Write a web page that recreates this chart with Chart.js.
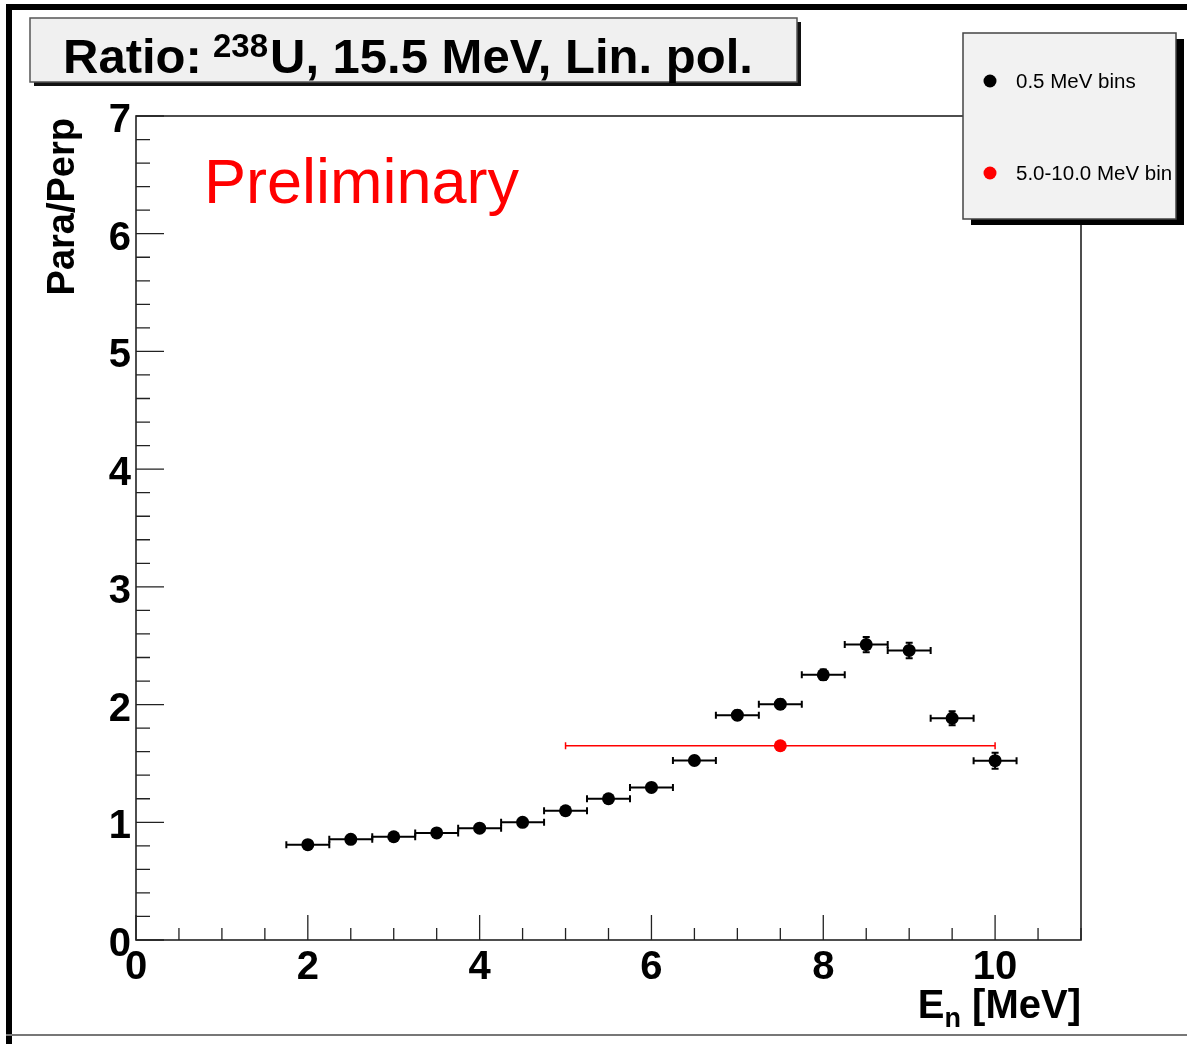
<!DOCTYPE html>
<html><head><meta charset="utf-8">
<script src="https://cdn.jsdelivr.net/npm/chart.js@4/dist/chart.umd.min.js"></script>
<style>html,body{margin:0;padding:0;background:#fff;overflow:hidden}#wrap{width:1187px;height:1044px;position:relative}canvas{display:block}</style>
</head><body><div id="wrap"><canvas id="c" width="1187" height="1044"></canvas></div>
<script>
// ---- data ----
const energies      = [2, 2.5, 3, 3.5, 4, 4.5, 5, 5.5, 6, 6.5, 7, 7.5, 8, 8.5, 9, 9.5, 10];
const ratios        = [0.81, 0.855, 0.877, 0.91, 0.95, 1.0, 1.098, 1.2, 1.296, 1.525, 1.91, 2.003, 2.253, 2.51, 2.46, 1.884, 1.523];
const ratioErr      = [0.02, 0.02, 0.02, 0.02, 0.02, 0.025, 0.025, 0.025, 0.03, 0.035, 0.04, 0.04, 0.045, 0.065, 0.066, 0.06, 0.068];
const binHalfWidth  = [0.25, 0.25, 0.25, 0.25, 0.25, 0.25, 0.25, 0.25, 0.25, 0.25, 0.25, 0.25, 0.25, 0.25, 0.25, 0.25, 0.25];
const wideCenter    = [7.5];
const wideRatio     = [1.65];
const wideErr       = [0.005];
const wideHalfWidth = [2.5];
const xTickLabels   = [0, 2, 4, 6, 8, 10];
const yTickLabels   = [0, 1, 2, 3, 4, 5, 6, 7];
const seriesLabels  = ['0.5 MeV bins', '5.0-10.0 MeV bin'];
const titleMain     = 'Ratio:';
const titleSup      = '238';
const titleRest     = 'U, 15.5 MeV, Lin. pol.';
const xTitle        = ['E', 'n', ' [MeV]'];
const yTitle        = 'Para/Perp';
const watermark     = 'Preliminary';

const FONT = '"Liberation Sans", Arial, Helvetica, sans-serif';

const errorBars = {
  id: 'errorBars',
  beforeDatasetsDraw(chart) {
    const ctx = chart.ctx, xs = chart.scales.x, ys = chart.scales.y;
    chart.data.datasets.forEach(ds => {
      ctx.save();
      ctx.strokeStyle = ds.borderColor;
      ctx.lineWidth = ds.errLineWidth;
      ds.data.forEach(p => {
        const cx = xs.getPixelForValue(p.x), cy = ys.getPixelForValue(p.y);
        const x0 = xs.getPixelForValue(p.x - p.xe), x1 = xs.getPixelForValue(p.x + p.xe);
        const y0 = ys.getPixelForValue(p.y - p.ye), y1 = ys.getPixelForValue(p.y + p.ye);
        ctx.beginPath();
        ctx.moveTo(x0, cy); ctx.lineTo(x1, cy);
        ctx.moveTo(x0, cy - 3.5); ctx.lineTo(x0, cy + 3.5);
        ctx.moveTo(x1, cy - 3.5); ctx.lineTo(x1, cy + 3.5);
        ctx.moveTo(cx, y0); ctx.lineTo(cx, y1);
        ctx.moveTo(cx - 3.5, y0); ctx.lineTo(cx + 3.5, y0);
        ctx.moveTo(cx - 3.5, y1); ctx.lineTo(cx + 3.5, y1);
        ctx.stroke();
      });
      ctx.restore();
    });
  }
};

const decor = {
  id: 'decor',
  beforeDraw(chart) {
    const ctx = chart.ctx;
    ctx.save();
    ctx.fillStyle = '#fff';
    ctx.fillRect(0, 0, chart.width, chart.height);
    // outer canvas frame (ROOT style)
    ctx.fillStyle = '#000';
    ctx.fillRect(6, 4, chart.width - 6, 6);
    ctx.fillRect(6, 4, 6, chart.height - 4);
    ctx.fillStyle = '#777';
    ctx.fillRect(6, 1034, chart.width - 6, 2);
    ctx.restore();
  },
  afterDraw(chart) {
    const ctx = chart.ctx, a = chart.chartArea, xs = chart.scales.x, ys = chart.scales.y;
    ctx.save();
    // plot frame
    ctx.strokeStyle = '#222';
    ctx.lineWidth = 1.6;
    ctx.strokeRect(a.left, a.top, a.right - a.left, a.bottom - a.top);
    // inward ticks
    ctx.lineWidth = 1.3;
    ctx.beginPath();
    for (let v = 0; v <= 11.001; v += 0.5) {
      const px = xs.getPixelForValue(v);
      const major = Math.abs(v / 2 - Math.round(v / 2)) < 1e-6;
      ctx.moveTo(px, a.bottom); ctx.lineTo(px, a.bottom - (major ? 25 : 12));
    }
    for (let v = 0; v <= 7.001; v += 0.2) {
      const py = ys.getPixelForValue(v);
      const major = Math.abs(v - Math.round(v)) < 1e-6;
      ctx.moveTo(a.left, py); ctx.lineTo(a.left + (major ? 28 : 14), py);
    }
    ctx.stroke();

    // Title box
    ctx.fillStyle = '#111';
    ctx.fillRect(34, 22, 767, 64);
    ctx.fillStyle = '#f0f0f0';
    ctx.fillRect(30, 18, 767, 64);
    ctx.strokeStyle = '#555';
    ctx.lineWidth = 1.5;
    ctx.strokeRect(30, 18, 767, 64);
    ctx.fillStyle = '#000';
    ctx.textBaseline = 'alphabetic';
    ctx.textAlign = 'left';
    ctx.font = 'bold 49px ' + FONT;
    ctx.fillText(titleMain, 63, 73);
    ctx.font = 'bold 33px ' + FONT;
    ctx.fillText(titleSup, 213, 57);
    ctx.font = 'bold 49px ' + FONT;
    ctx.fillText(titleRest, 270, 73);

    // Preliminary
    ctx.fillStyle = '#ff0000';
    ctx.font = '63px ' + FONT;
    ctx.fillText(watermark, 204, 203);

    // Y axis title
    ctx.save();
    ctx.translate(74, 118);
    ctx.rotate(-Math.PI / 2);
    ctx.fillStyle = '#000';
    ctx.font = 'bold 38px ' + FONT;
    ctx.textAlign = 'right';
    ctx.fillText(yTitle, 0, 0);
    ctx.restore();

    // X axis title (right aligned to plot)
    ctx.fillStyle = '#000';
    ctx.font = 'bold 40px ' + FONT;
    const wE = ctx.measureText(xTitle[0]).width;
    const wRest = ctx.measureText(xTitle[2]).width;
    ctx.font = 'bold 27px ' + FONT;
    const wN = ctx.measureText(xTitle[1]).width;
    let xx = a.right - (wE + wN + wRest);
    ctx.font = 'bold 40px ' + FONT;
    ctx.fillText(xTitle[0], xx, 1018);
    xx += wE;
    ctx.font = 'bold 27px ' + FONT;
    ctx.fillText(xTitle[1], xx, 1027);
    xx += wN;
    ctx.font = 'bold 40px ' + FONT;
    ctx.fillText(xTitle[2], xx, 1018);

    // Legend
    ctx.fillStyle = '#000';
    ctx.fillRect(971, 39, 213, 186);
    ctx.fillStyle = '#f2f2f2';
    ctx.fillRect(963, 33, 213, 186);
    ctx.strokeStyle = '#444';
    ctx.lineWidth = 1.5;
    ctx.strokeRect(963, 33, 213, 186);
    ctx.save();
    ctx.beginPath();
    ctx.rect(963, 33, 213, 186);
    ctx.clip();
    const ly = [81, 173];
    chart.data.datasets.forEach((ds, i) => {
      ctx.fillStyle = ds.backgroundColor;
      ctx.beginPath();
      ctx.arc(990, ly[i], 6.5, 0, Math.PI * 2);
      ctx.fill();
      ctx.fillStyle = '#000';
      ctx.font = '20.5px ' + FONT;
      ctx.textBaseline = 'middle';
      ctx.fillText(ds.label, 1016, ly[i] + 1);
    });
    ctx.restore();
    ctx.restore();
  }
};

const blackData = energies.map((x, i) => ({x: x, y: ratios[i], xe: binHalfWidth[i], ye: ratioErr[i]}));
const redData = wideCenter.map((x, i) => ({x: x, y: wideRatio[i], xe: wideHalfWidth[i], ye: wideErr[i]}));

const tickFont = {family: FONT, size: 40, weight: 'bold'};

new Chart(document.getElementById('c'), {
  type: 'scatter',
  data: {
    datasets: [
      {label: seriesLabels[0], data: blackData, backgroundColor: '#000', borderColor: '#000', borderWidth: 0,
       pointRadius: 6.5, pointHoverRadius: 6.5, errLineWidth: 2},
      {label: seriesLabels[1], data: redData, backgroundColor: '#ff0000', borderColor: '#ff0000', borderWidth: 0,
       pointRadius: 6.5, pointHoverRadius: 6.5, errLineWidth: 1.5}
    ]
  },
  options: {
    responsive: false,
    animation: false,
    events: [],
    layout: {padding: {left: 0, top: 116, right: 106, bottom: 0}},
    plugins: {legend: {display: false}, tooltip: {enabled: false}, title: {display: false}},
    scales: {
      x: {
        type: 'linear', min: 0, max: 11,
        afterBuildTicks: s => { s.ticks = xTickLabels.map(v => ({value: v})); },
        afterFit: s => { s.height = 104; },
        grid: {display: false, drawTicks: false},
        border: {display: false},
        ticks: {font: tickFont, color: '#000', padding: 4, maxRotation: 0, autoSkip: false}
      },
      y: {
        type: 'linear', min: 0, max: 7,
        afterBuildTicks: s => { s.ticks = yTickLabels.map(v => ({value: v})); },
        afterFit: s => { s.width = 136; },
        grid: {display: false, drawTicks: false},
        border: {display: false},
        ticks: {font: tickFont, color: '#000', padding: 5, labelOffset: 5, autoSkip: false}
      }
    }
  },
  plugins: [decor, errorBars]
});
</script>
</body></html>
